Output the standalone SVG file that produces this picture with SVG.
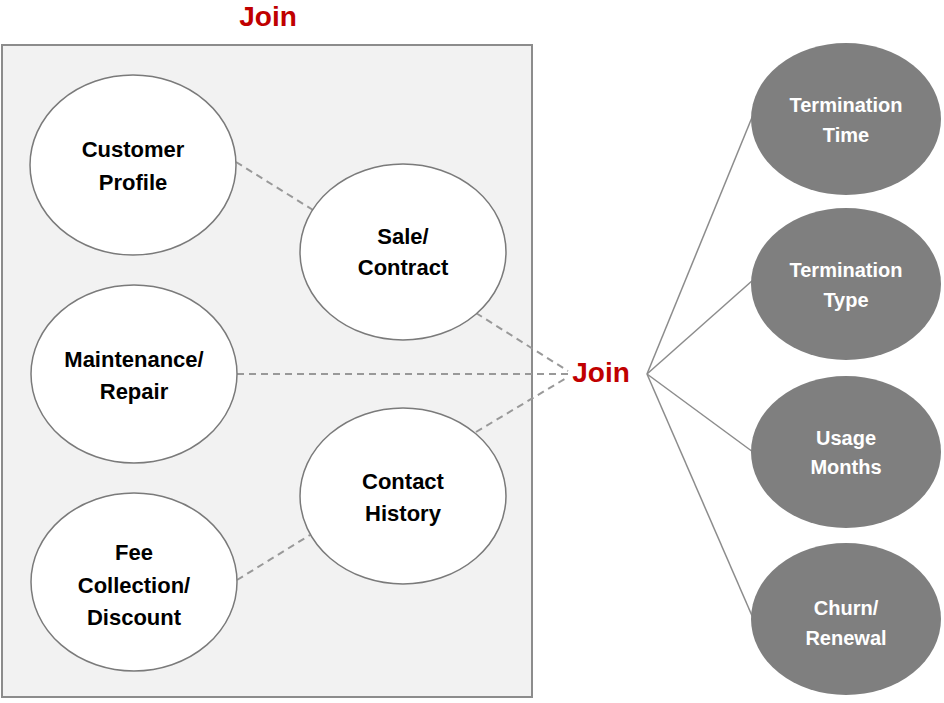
<svg xmlns="http://www.w3.org/2000/svg" width="944" height="703" viewBox="0 0 944 703">
<style>
.lt{font-family:"Liberation Sans",Arial,sans-serif;font-weight:bold;font-size:22px;fill:#000;text-anchor:middle}
.rt{font-family:"Liberation Sans",Arial,sans-serif;font-weight:bold;font-size:20px;fill:#fff;text-anchor:middle}
.join{font-family:"Liberation Sans",Arial,sans-serif;font-weight:bold;font-size:28px;fill:#c00000;text-anchor:middle}
.le{fill:#fff;stroke:#7a7a7a;stroke-width:1.5}
.re{fill:#7f7f7f;stroke:none}
.dash{stroke:#999;stroke-width:2;stroke-dasharray:7,5;fill:none}
.sol{stroke:#8c8c8c;stroke-width:1.5;fill:none}
</style>
<rect x="0" y="0" width="944" height="703" fill="#fff"/>
<rect id="box" x="2" y="45" width="530" height="652" fill="#f2f2f2" stroke="#8c8c8c" stroke-width="2"/>
<text class="join" x="268" y="26">Join</text>
<g id="connectors">
<line class="dash" x1="236" y1="162" x2="313" y2="210"/>
<line class="dash" x1="476" y1="313" x2="568" y2="371"/>
<line class="dash" x1="237" y1="374" x2="568" y2="374"/>
<line class="dash" x1="476" y1="432" x2="568" y2="377"/>
<line class="dash" x1="237" y1="580" x2="310" y2="535"/>
<line class="sol" x1="647" y1="374" x2="753" y2="115"/>
<line class="sol" x1="647" y1="374" x2="753" y2="280"/>
<line class="sol" x1="647" y1="374" x2="753" y2="452"/>
<line class="sol" x1="647" y1="374" x2="753" y2="618"/>
</g>
<g id="customer-profile"><ellipse class="le" cx="133" cy="165" rx="103" ry="90"/><text class="lt" x="133" y="157">Customer</text><text class="lt" x="133" y="190">Profile</text></g>
<g id="maintenance-repair"><ellipse class="le" cx="134" cy="374" rx="103" ry="89"/><text class="lt" x="134" y="367">Maintenance/</text><text class="lt" x="134" y="399">Repair</text></g>
<g id="fee-collection"><ellipse class="le" cx="134" cy="582" rx="103" ry="89"/><text class="lt" x="134" y="560">Fee</text><text class="lt" x="134" y="593">Collection/</text><text class="lt" x="134" y="625">Discount</text></g>
<g id="sale-contract"><ellipse class="le" cx="403" cy="252" rx="103" ry="88"/><text class="lt" x="403" y="244">Sale/</text><text class="lt" x="403" y="275">Contract</text></g>
<g id="contact-history"><ellipse class="le" cx="403" cy="496" rx="103" ry="88"/><text class="lt" x="403" y="489">Contact</text><text class="lt" x="403" y="521">History</text></g>
<g id="join-center"><text class="join" x="601" y="382">Join</text></g>
<g id="termination-time"><ellipse class="re" cx="846" cy="119" rx="95" ry="76"/><text class="rt" x="846" y="112">Termination</text><text class="rt" x="846" y="142">Time</text></g>
<g id="termination-type"><ellipse class="re" cx="846" cy="284" rx="95" ry="76"/><text class="rt" x="846" y="277">Termination</text><text class="rt" x="846" y="307">Type</text></g>
<g id="usage-months"><ellipse class="re" cx="846" cy="452" rx="95" ry="76"/><text class="rt" x="846" y="445">Usage</text><text class="rt" x="846" y="474">Months</text></g>
<g id="churn-renewal"><ellipse class="re" cx="846" cy="619" rx="95" ry="76"/><text class="rt" x="846" y="615">Churn/</text><text class="rt" x="846" y="645">Renewal</text></g>
</svg>
